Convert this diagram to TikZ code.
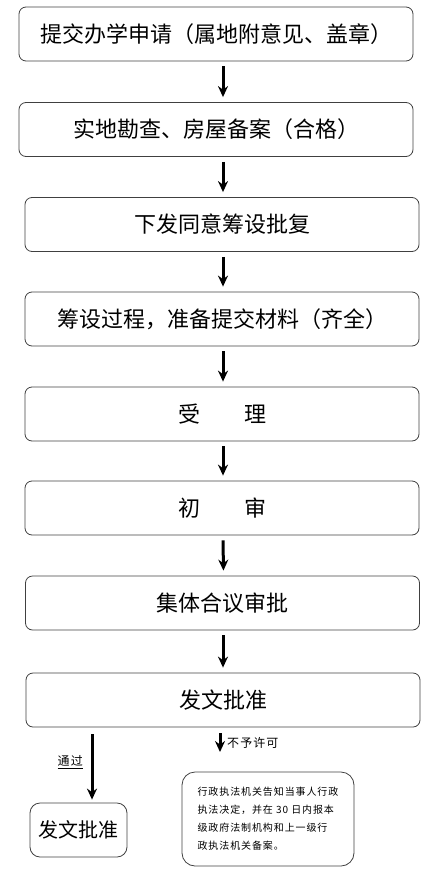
\documentclass[tikz,border=0pt]{standalone}
\usepackage{fontspec}
\setmainfont{Noto Sans CJK SC}
\newfontfamily\notefont[LetterSpace=9]{Noto Sans CJK SC}
\usetikzlibrary{arrows.meta}

\tikzset{
  stage/.style={draw=black!75, line width=0.8pt, rounded corners=7pt, minimum width=394pt,
    minimum height=54pt, inner sep=0pt, font=\fontsize{22}{26}\selectfont},
  flow/.style={-{Stealth[length=11pt,width=10pt]}, line width=3pt,
    shorten <=5pt, shorten >=5pt},
  tag/.style={inner sep=1pt, font=\notefont\fontsize{12}{14}\selectfont}
}

\begin{document}
\begin{tikzpicture}[x=1pt, y=-1pt]
  \useasboundingbox (0,0) rectangle (436,878);

  % --- main chain of steps
  \node[stage] (apply)   at (216,34)    {提交办学申请（属地附意见、盖章）};
  \node[stage] (survey)  at (216,129.5) {实地勘查、房屋备案（合格）};
  \node[stage] (approve) at (222,224.5) {下发同意筹设批复};
  \node[stage] (prepare) at (222,319)   {筹设过程，准备提交材料（齐全）};
  \node[stage] (accept)  at (222,414)   {受　　理};
  \node[stage] (check)   at (222,508)   {初　　审};
  \node[stage] (council) at (222.5,603) {集体合议审批};
  \node[stage] (decide)  at (223,700)   {发文批准};

  % --- arrows between steps
  \draw[flow] ([xshift=7pt]apply.south) -- ([xshift=7pt]survey.north);
  \draw[flow] ([xshift=7pt]survey.south) -- ([xshift=1pt]approve.north);
  \draw[flow] ([xshift=1pt]approve.south) -- ([xshift=1pt]prepare.north);
  \draw[flow] ([xshift=1pt]prepare.south) -- ([xshift=1pt]accept.north);
  \draw[flow] ([xshift=1pt]accept.south) -- ([xshift=1pt]check.north);
  \draw[flow] ([xshift=1pt]check.south) -- ([xshift=1pt]council.north);
  \draw[flow] ([xshift=0.5pt]council.south) -- (decide.north);

  % --- the two outcomes
  \node[draw=black!75, line width=0.8pt, rounded corners=10pt, minimum width=97pt,
    minimum height=54pt, inner sep=0pt, font=\fontsize{20}{24}\selectfont]
    (granted) at (78.5,830) {发文批准};
  \node[draw=black!75, line width=0.8pt, rounded corners=13pt, minimum width=172pt,
    minimum height=94pt, inner sep=0pt, align=left,
    font=\notefont\fontsize{10}{18}\selectfont] (record) at (268,819)
    {行政执法机关告知当事人行政\\执法决定，并在 30 日内报本\\级政府法制机构和上一级行\\政执法机关备案。};

  \coordinate (refused) at (220,752);
  \draw[flow, shorten <=7pt, shorten >=3pt]
    ([xshift=13.5pt]granted.north |- decide.south) -- ([xshift=13.5pt]granted.north);
  \draw[flow, shorten <=6pt, shorten >=0pt] (decide.south -| refused) -- (refused);

  \node[tag, anchor=east] (passlabel) at (84,762) {\underline{通过}};
  \node[tag, anchor=west] (refuselabel) at (226,743) {不予许可};
\end{tikzpicture}
\end{document}
